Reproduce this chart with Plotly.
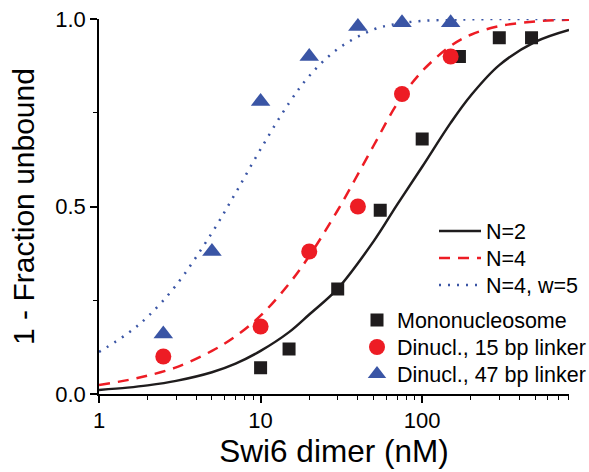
import plotly.graph_objects as go

# ---- data ----
# fitted curves
fit_n2_x = [1, 1.5, 2, 3, 5, 7, 10, 15, 20, 30, 50, 70, 100, 150, 200, 300, 500, 810]
fit_n2_y = [0.011, 0.017, 0.023, 0.035, 0.058, 0.081, 0.115, 0.165, 0.212, 0.281, 0.407, 0.505,
            0.606, 0.723, 0.796, 0.877, 0.939, 0.971]

fit_n4_x = [1, 1.5, 2, 3, 5, 7, 10, 15, 20, 30, 50, 70, 100, 150, 200, 300, 500, 810]
fit_n4_y = [0.024, 0.037, 0.049, 0.071, 0.115, 0.154, 0.209, 0.294, 0.368, 0.49, 0.662, 0.774,
            0.861, 0.928, 0.958, 0.981, 0.9935, 0.998]

fit_n4w5_x = [1, 1.5, 2, 3, 5, 7, 10, 15, 20, 30, 50, 70, 100, 150, 200, 300, 500, 810]
fit_n4w5_y = [0.112, 0.161, 0.206, 0.290, 0.430, 0.536, 0.653, 0.776, 0.848, 0.920, 0.972, 0.987,
              0.995, 0.998, 0.999, 1.0, 1.0, 1.0]

# measured points
mono_x = [10, 15, 30, 55, 100, 170, 300, 475]
mono_y = [0.07, 0.12, 0.28, 0.49, 0.68, 0.90, 0.95, 0.95]

di15_x = [2.5, 10, 20, 40, 75, 150]
di15_y = [0.10, 0.18, 0.38, 0.50, 0.80, 0.90]

di47_x = [2.5, 5, 10, 20, 40, 75, 150]
di47_y = [0.16, 0.38, 0.78, 0.90, 0.98, 0.99, 0.99]

x_tickvals = [1, 10, 100]
x_ticktext = ["1", "10", "100"]
y_tickvals = [0.0, 0.5, 1.0]
y_ticktext = ["0.0", "0.5", "1.0"]
x_minor = [2, 3, 4, 5, 6, 7, 8, 9, 20, 30, 40, 50, 60, 70, 80, 90, 200, 300, 400, 500, 600, 700, 800]

FONT = "Liberation Sans, Arial, sans-serif"
BLACK = "#1f1c1d"
RED = "#ed1c24"
BLUE = "#3a55a5"

# plot area in pixels
L, R, T, B = 99, 569, 19, 394


def px_to_paper_x(px):
    return (px - L) / (R - L)


def px_to_paper_y(py):
    return (B - py) / (B - T)


fig = go.Figure()

fig.add_trace(go.Scatter(x=fit_n2_x, y=fit_n2_y, mode="lines", name="N=2",
                         line=dict(color=BLACK, width=2.5, shape="spline"), legend="legend"))
fig.add_trace(go.Scatter(x=fit_n4_x, y=fit_n4_y, mode="lines", name="N=4",
                         line=dict(color=RED, width=2.5, dash="11px,8px", shape="spline"), legend="legend2"))
fig.add_trace(go.Scatter(x=fit_n4w5_x, y=fit_n4w5_y, mode="lines", name="N=4, w=5",
                         line=dict(color=BLUE, width=2.5, dash="2px,7px", shape="spline"), legend="legend3"))

fig.add_trace(go.Scatter(x=mono_x, y=mono_y, mode="markers", name="Mononucleosome",
                         marker=dict(symbol="square", size=13, color=BLACK), cliponaxis=False, legend="legend4"))
fig.add_trace(go.Scatter(x=di15_x, y=di15_y, mode="markers", name="Dinucl., 15 bp linker",
                         marker=dict(symbol="circle", size=16, color=RED), cliponaxis=False, legend="legend5"))
fig.add_trace(go.Scatter(x=di47_x, y=di47_y, mode="markers", name="Dinucl., 47 bp linker",
                         marker=dict(symbol="triangle-up", size=17, color=BLUE), cliponaxis=False, legend="legend6"))

line_leg_x = px_to_paper_x(434)
mark_leg_x = px_to_paper_x(357)
rows = [231, 258, 285, 320, 347, 374]
legends = {}
for i, ry in enumerate(rows):
    key = "legend" if i == 0 else f"legend{i + 1}"
    lx = line_leg_x if i < 3 else mark_leg_x
    d = dict(x=lx, y=px_to_paper_y(ry), xanchor="left", yanchor="middle",
             bgcolor="rgba(0,0,0,0)", font=dict(size=21.5, family=FONT), borderwidth=0)
    if i < 3:
        d["itemwidth"] = 42
    legends[key] = d

fig.update_layout(
    width=589, height=472,
    margin=dict(l=L, r=589 - R, t=T, b=472 - B, autoexpand=False),
    paper_bgcolor="white", plot_bgcolor="white",
    font=dict(family=FONT, size=21, color="black"),
    showlegend=True,
    **legends,
)

fig.update_xaxes(
    type="log", range=[0, 2.9085],
    showgrid=False, zeroline=False,
    showline=True, linecolor="black", linewidth=1.5,
    ticks="outside", ticklen=7, tickwidth=1.5, tickcolor="black",
    tickvals=x_tickvals, ticktext=x_ticktext,
    tickfont=dict(size=22, family=FONT),
    ticklabelstandoff=-1,
    minor=dict(tickvals=x_minor, ticks="outside", ticklen=4, tickwidth=1.2, tickcolor="black"),
    title=dict(text="Swi6 dimer (nM)", font=dict(size=31.5, family=FONT), standoff=6),
    automargin=False,
)
fig.update_yaxes(
    range=[0, 1],
    showgrid=False, zeroline=False,
    showline=True, linecolor="black", linewidth=1.5,
    ticks="outside", ticklen=7, tickwidth=1.5, tickcolor="black",
    tickvals=y_tickvals, ticktext=y_ticktext,
    tickfont=dict(size=22, family=FONT),
    minor=dict(dtick=0.25, ticks="outside", ticklen=4, tickwidth=1.2, tickcolor="black"),
    title=dict(text="1 - Fraction unbound", font=dict(size=30, family=FONT), standoff=12),
    automargin=False,
)

fig.write_html(
    "out.html",
    config={"displayModeBar": False},
    post_script="document.body.style.margin='0';document.body.style.overflow='hidden';",
)
